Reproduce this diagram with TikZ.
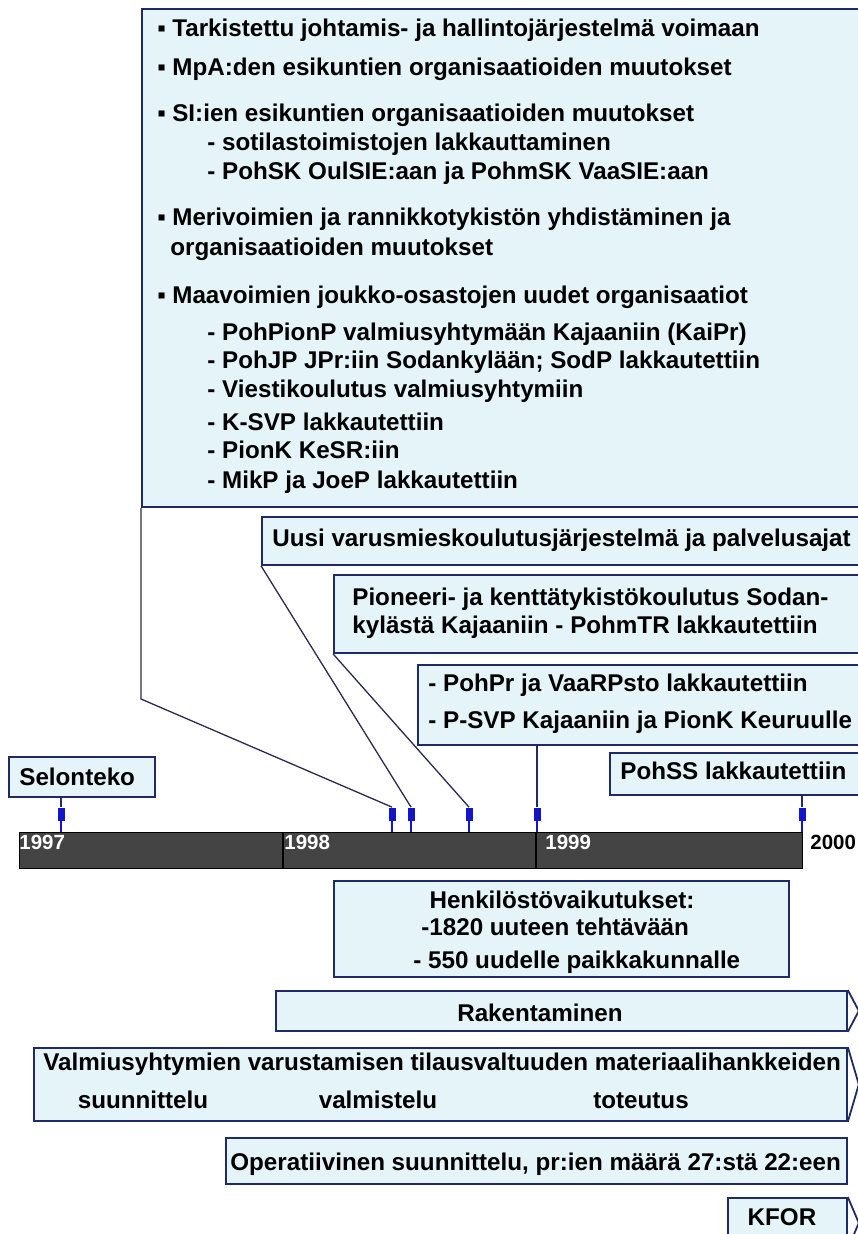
\documentclass[tikz,border=0pt]{standalone}
\usepackage{fontspec}
\setmainfont{Liberation Sans}

\definecolor{boxfill}{HTML}{E4F4F8}
\definecolor{boxline}{HTML}{1F2A66}
\definecolor{leadline}{HTML}{2A2A50}
\definecolor{tackblue}{HTML}{1414C8}
\definecolor{barfill}{HTML}{444444}

\newcommand{\itembullet}{\makebox[15pt][l]{▪}}

\tikzset{every picture/.style={line width=0.75pt}}

\begin{document}
\begin{tikzpicture}[x=1pt,y=1pt,yscale=-1,
  box/.style={draw=boxline,fill=boxfill,line width=1.8pt,rectangle,inner sep=0pt,anchor=north west},
  boxedge/.style={draw=boxline,line width=1.8pt},
  txt/.style={inner sep=0pt,anchor=mid west,font=\bfseries\fontsize{24.2}{28}\selectfont},
  ctxt/.style={txt,anchor=mid},
  year/.style={inner sep=0pt,anchor=mid west,font=\bfseries\fontsize{20.5}{24}\selectfont},
  tack/.style={rectangle,fill=tackblue,minimum width=7pt,minimum height=13pt,inner sep=0pt},
  callout/.style={draw=leadline,line width=1.3pt},
  stem/.style={draw=tackblue,line width=1.8pt}]

\useasboundingbox (0,0) rectangle (858,1234);
\clip (0,0) rectangle (858,1234);

% boxes
\node[box,minimum width=730pt,minimum height=498pt] (plan) at (141,8) {};
\node[box,minimum width=610pt,minimum height=48pt] (varus) at (261,516) {};
\node[box,minimum width=540pt,minimum height=78pt] (pion) at (333,574) {};
\node[box,minimum width=460pt,minimum height=80pt] (pohpr) at (417,664) {};
\node[box,minimum width=260pt,minimum height=42pt] (pohss) at (609,752) {};
\node[box,minimum width=146pt,minimum height=40pt] (selon) at (8,756) {};
\node[box,minimum width=455pt,minimum height=96pt] (henk) at (333,880) {};
\node[box,minimum width=571pt,minimum height=40pt] (rak) at (275,990) {};
\node[box,minimum width=813pt,minimum height=73pt] (valm) at (33,1047) {};
\node[box,minimum width=621pt,minimum height=46pt] (oper) at (225,1137) {};
\node[box,minimum width=119pt,minimum height=50pt] (kfor) at (727,1197) {};

\draw[boxedge] (rak.north east) -- ([xshift=11pt]rak.east) -- (rak.south east);
\draw[boxedge] (valm.north east) -- ([xshift=11pt]valm.east) -- (valm.south east);
\draw[boxedge] (kfor.north east) -- ([xshift=11pt]kfor.east) -- (kfor.south east);

% time axis
\node[rectangle,draw=black,fill=barfill,line width=1.2pt,inner sep=0pt,anchor=north west,
      minimum width=783pt,minimum height=36pt] (axis) at (19,832) {};
\draw[line width=1.2pt] ([xshift=264pt]axis.north west) -- ([xshift=264pt]axis.south west);
\draw[line width=1.2pt] ([xshift=517pt]axis.north west) -- ([xshift=517pt]axis.south west);

\node[year,text=white] (y97) at (19,847) {1997};
\node[year,text=white] (y98) at (284,847) {1998};
\node[year,text=white] (y99) at (545,847) {1999};
\node[year] (y00) at (810,847) {2000};

% markers
\node[tack] (m0) at (61,814) {};
\node[tack] (m1) at (392,814) {};
\node[tack] (m2) at (411,814) {};
\node[tack] (m3) at (469,814) {};
\node[tack] (m4) at (537,814) {};
\node[tack] (m5) at (802,814) {};

\coordinate (bend) at (141,699);
\draw[callout] (plan.south west) -- (bend) -- (m1.north);
\draw[callout] (varus.south west) -- (m2.north);
\draw[callout] (pion.south west) -- (m3.north);
\draw[callout,draw=boxline] (m4 |- pohpr.south) -- (m4.north);
\draw[callout,draw=boxline] (m5 |- pohss.south) -- (m5.north);
\draw[callout,draw=boxline] (m0 |- selon.south) -- (m0.north);

\draw[stem] (m0.south) -- (m0 |- axis.north);
\draw[stem] (m1.south) -- (m1 |- axis.north);
\draw[stem] (m2.south) -- (m2 |- axis.north);
\draw[stem] (m3.south) -- (m3 |- axis.north);
\draw[stem] (m4.south) -- (m4 |- axis.north);
\draw[stem] (m5.south) -- (m5 |- axis.north);

% texts
\node[txt] (l1) at (157,34) {\itembullet Tarkistettu johtamis- ja hallintojärjestelmä voimaan};
\node[txt] (l2) at (157,73) {\itembullet MpA:den esikuntien organisaatioiden muutokset};
\node[txt] (l3) at (157,119) {\itembullet SI:ien esikuntien organisaatioiden muutokset};
\node[txt] (l4) at (207,148) {- sotilastoimistojen lakkauttaminen};
\node[txt] (l5) at (207,177) {- PohSK OulSIE:aan ja PohmSK VaaSIE:aan};
\node[txt] (l6) at (157,223) {\itembullet Merivoimien ja rannikkotykistön yhdistäminen ja};
\node[txt] (l7) at (170,253) {organisaatioiden muutokset};
\node[txt] (l8) at (157,301) {\itembullet Maavoimien joukko-osastojen uudet organisaatiot};
\node[txt] (l9) at (207,338) {- PohPionP valmiusyhtymään Kajaaniin (KaiPr)};
\node[txt] (l10) at (207,366) {- PohJP JPr:iin Sodankylään; SodP lakkautettiin};
\node[txt] (l11) at (207,395) {- Viestikoulutus valmiusyhtymiin};
\node[txt] (l12) at (207,428) {- K-SVP lakkautettiin};
\node[txt] (l13) at (207,456) {- PionK KeSR:iin};
\node[txt] (l14) at (207,486) {- MikP ja JoeP lakkautettiin};

\node[txt] (varust) at (272,544) {Uusi varusmieskoulutusjärjestelmä ja palvelusajat};
\node[txt] (pion1) at (352,603) {Pioneeri- ja kenttätykistökoulutus Sodan-};
\node[txt] (pion2) at (352,631) {kylästä Kajaaniin - PohmTR lakkautettiin};
\node[txt] (pohpr1) at (428,689) {- PohPr ja VaaRPsto lakkautettiin};
\node[txt] (pohpr2) at (428,726) {- P-SVP Kajaaniin ja PionK Keuruulle};
\node[txt] (pohsst) at (620,777) {PohSS lakkautettiin};
\node[txt] (selont) at (19,783) {Selonteko};

\node[ctxt] (henk1) at (562,906) {Henkilöstövaikutukset:};
\node[txt] (henk2) at (421,933) {-1820 uuteen tehtävään};
\node[txt] (henk3) at (413,966) {- 550 uudelle paikkakunnalle};

\node[ctxt] (rakt) at (540,1019) {Rakentaminen};
\node[txt] (valm1) at (43,1068) {Valmiusyhtymien varustamisen tilausvaltuuden materiaalihankkeiden};
\node[ctxt] (valm2) at (143,1106) {suunnittelu};
\node[ctxt] (valm3) at (378,1106) {valmistelu};
\node[ctxt] (valm4) at (641,1106) {toteutus};
\node[txt] (opert) at (230,1168) {Operatiivinen suunnittelu, pr:ien määrä 27:stä 22:een};
\node[ctxt] (kfort) at (782,1223) {KFOR};

\end{tikzpicture}
\end{document}
